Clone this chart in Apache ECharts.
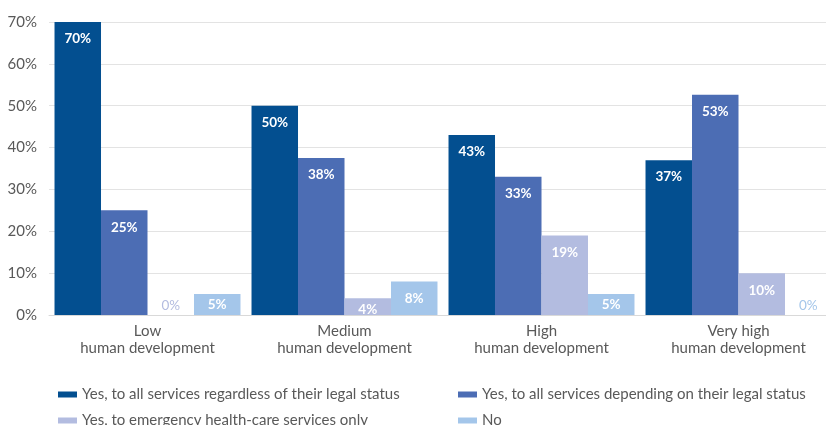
<!DOCTYPE html>
<html lang="en">
<head>
    <meta charset="UTF-8">
    <title></title>
    <style>
        * {
            margin: 0;
            padding: 0;
            box-sizing: border-box;
        }

        html, body {
            width: 826px;
            height: 425px;
            background: #ffffff;
            overflow: hidden;
        }

        #chart {
            width: 826px;
            height: 425px;
        }
    </style>
    <script src="https://cdn.jsdelivr.net/npm/echarts@6/dist/echarts.min.js"></script>
</head>
<body>
<div id="chart"></div>
<script type="text/javascript">
    var categories = ['Low\nhuman development', 'Medium\nhuman development', 'High\nhuman development', 'Very high\nhuman development']
    var seriesNames = [
        'Yes, to all services regardless of their legal status',
        'Yes, to all services depending on their legal status',
        'Yes, to emergency health-care services only',
        'No'
    ]
    var regardless = [70, 50, 43, 37]
    var depending = [25, 37.5, 33, 52.6]
    var emergency = [0, 4, 19, 10]
    var noAccess = [5, 8, 5, 0]
    var yTicks = [0, 10, 20, 30, 40, 50, 60, 70]

    var colors = ['#034f90', '#4c6db4', '#b3bce0', '#a4c6ea']
    var font = 'Lato'

    function buildData(values, color) {
        return values.map(function (v) {
            if (v === 0) {
                return {
                    value: v,
                    label: {position: 'top', distance: 2, color: color, fontWeight: 'normal'}
                }
            }
            if (v < 6) {
                return {value: v, label: {distance: 4}}
            }
            return v
        })
    }

    var allValues = [regardless, depending, emergency, noAccess]
    var series = allValues.map(function (values, i) {
        return {
            name: seriesNames[i],
            type: 'bar',
            barGap: '0%',
            barCategoryGap: '5.6%',
            itemStyle: {color: colors[i]},
            label: {
                show: true,
                position: 'insideTop',
                distance: 10,
                color: '#ffffff',
                fontFamily: font,
                fontWeight: 'bold',
                fontSize: 13.5,
                formatter: function (p) {
                    return Math.round(p.value) + '%'
                }
            },
            data: buildData(values, colors[i])
        }
    })

    var legendText = {color: '#595959', fontSize: 15, fontFamily: font}

    var myChart = echarts.init(document.getElementById('chart'))
    var option = {
        animation: false,
        grid: {
            left: 49,
            top: 22,
            width: 788,
            height: 293,
            outerBoundsMode: 'none'
        },
        legend: [
            {
                data: [seriesNames[0], seriesNames[2]],
                orient: 'vertical',
                left: 53,
                top: 382,
                height: 60,
                itemWidth: 19,
                itemHeight: 6,
                itemGap: 11,
                icon: 'rect',
                textStyle: legendText
            },
            {
                data: [seriesNames[1], seriesNames[3]],
                orient: 'vertical',
                left: 453,
                top: 382,
                height: 60,
                itemWidth: 19,
                itemHeight: 6,
                itemGap: 11,
                icon: 'rect',
                textStyle: legendText
            }
        ],
        xAxis: {
            type: 'category',
            data: categories,
            axisTick: {show: false},
            axisLine: {lineStyle: {color: '#d9d9d9', width: 1}},
            axisLabel: {
                color: '#595959',
                fontFamily: font,
                fontSize: 15,
                lineHeight: 17,
                margin: 8
            }
        },
        yAxis: {
            type: 'value',
            min: yTicks[0],
            max: yTicks[yTicks.length - 1],
            interval: 10,
            axisLine: {show: false},
            axisTick: {show: false},
            splitLine: {lineStyle: {color: '#e3e3e3', width: 1}},
            axisLabel: {
                color: '#595959',
                fontFamily: font,
                fontSize: 15,
                margin: 12,
                formatter: '{value}%'
            }
        },
        series: series
    }
    myChart.setOption(option)
</script>
</body>
</html>
